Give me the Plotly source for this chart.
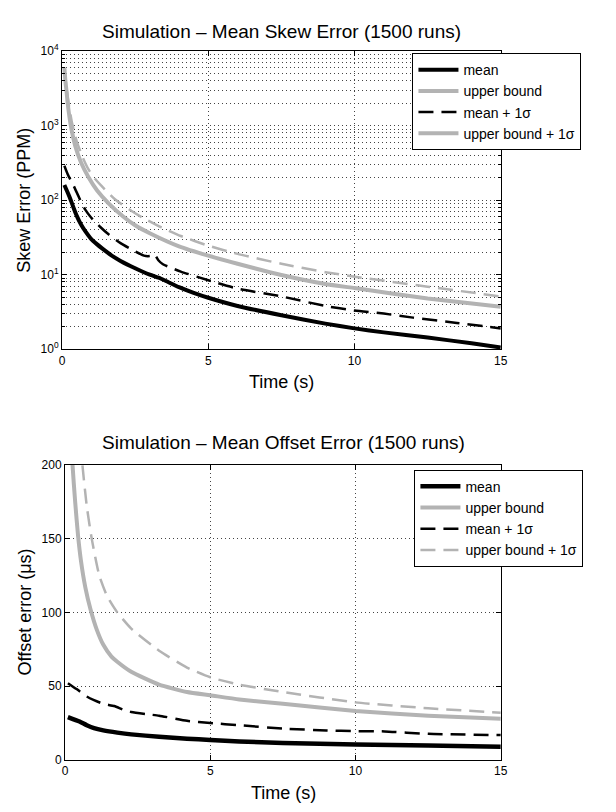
import plotly.graph_objects as go

W, H = 616, 812
FONT = "Liberation Sans, Arial, Helvetica, sans-serif"
GRAY = "#b3b3b3"

# ---------------- Data: top plot (Skew error, PPM, log scale) ----------------
skew_mean_t = [0.08, 0.2, 0.3, 0.4, 0.5, 0.65, 0.8, 1.0, 1.2, 1.37, 1.7, 2.0, 2.5, 3.0, 3.3, 3.5, 4.0, 4.5, 5.0, 6.0, 7.5, 9.0, 10.0, 11.0, 12.5, 14.0, 15.0]
skew_mean_v = [160, 125, 100, 78, 62, 47, 38, 30, 25.5, 22.5, 18, 15.3, 12.2, 10, 9.1, 8.4, 6.8, 5.7, 4.9, 3.8, 2.85, 2.2, 1.9, 1.68, 1.43, 1.2, 1.05]

skew_msig_t = [0.08, 0.2, 0.4, 0.6, 0.8, 1.0, 1.3, 1.6, 2.0, 2.4, 2.8, 3.0, 3.15, 3.3, 3.45, 3.7, 4.06, 5.0, 6.0, 7.5, 9.0, 10.0, 11.0, 12.0, 13.5, 15.0]
skew_msig_v = [290, 220, 155, 105, 74, 58, 44, 34.5, 26.5, 21.5, 18, 17.8, 18.8, 15.5, 13.8, 12.5, 11, 8.4, 6.5, 5.1, 3.8, 3.3, 3.0, 2.65, 2.25, 1.9]

skew_ub_t = [0.08, 0.12, 0.15, 0.2, 0.3, 0.45, 0.65, 0.9, 1.2, 1.6, 2.1, 2.5, 3.0, 4.0, 5.0, 6.0, 7.5, 9.0, 10.0, 12.5, 15.0]
skew_ub_v = [6000, 3800, 3000, 1900, 1000, 540, 320, 205, 135, 90, 60, 46, 36, 24, 18, 14, 9.9, 7.5, 6.6, 4.8, 3.7]

skew_ubsig_t = [0.08, 0.12, 0.2, 0.33, 0.5, 0.7, 0.9, 1.12, 1.35, 1.82, 2.3, 2.76, 3.4, 4.06, 5.0, 6.0, 7.5, 9.0, 10.0, 12.5, 15.0]
skew_ubsig_v = [5800, 4200, 2300, 1150, 620, 380, 260, 195, 155, 102, 75, 58, 43, 33, 24.5, 19, 14, 10.8, 9.4, 6.9, 5.1]

# ---------------- Data: bottom plot (Offset error, us) ----------------
off_mean_t = [0.1, 0.5, 0.75, 1.0, 1.32, 1.8, 2.28, 3.24, 4.2, 5.0, 6.0, 7.5, 10.0, 12.5, 15.0]
off_mean_v = [29, 26, 23.5, 21.5, 20, 18.5, 17.3, 15.7, 14.4, 13.5, 12.5, 11.5, 10.4, 9.7, 9.0]

off_msig_t = [0.1, 0.4, 0.75, 1.0, 1.32, 1.7, 2.0, 2.28, 2.8, 3.24, 4.2, 5.0, 6.0, 7.5, 9.0, 10.0, 11.0, 12.5, 15.0]
off_msig_v = [52, 48, 43, 40.5, 38, 36.5, 34, 32.5, 31, 30, 26.5, 25, 23.5, 21.2, 20, 19.5, 19.3, 17.7, 16.8]

off_ub_t = [0.22, 0.26, 0.35, 0.45, 0.55, 0.7, 0.88, 1.1, 1.32, 1.6, 1.8, 2.28, 3.24, 4.2, 5.0, 6.0, 7.5, 10.0, 12.5, 15.0]
off_ub_v = [225, 200, 175, 152, 135, 117, 102, 88, 78, 70, 66.5, 59.7, 51, 46, 43.8, 41, 38, 33.2, 30, 27.9]

off_ubsig_t = [0.55, 0.6, 0.75, 0.92, 1.18, 1.45, 1.8, 2.28, 3.24, 4.2, 5.0, 6.0, 7.5, 10.0, 12.5, 15.0]
off_ubsig_v = [215, 200, 172, 150, 125, 111, 100, 89, 74, 62.6, 56, 51, 46, 39, 35, 32]

names = ["mean", "upper bound", "mean + 1σ", "upper bound + 1σ"]
x_ticks = [0, 5, 10, 15]
skew_ticks = [1, 10, 100, 1000, 10000]
skew_ticktext = ["10<sup>0</sup>", "10<sup>1</sup>", "10<sup>2</sup>", "10<sup>3</sup>", "10<sup>4</sup>"]
off_ticks = [0, 50, 100, 150, 200]

DASH = "15px,8px"

fig = go.Figure()

def add(t, v, name, color, width, dash, xa, ya, leg, show=True):
    fig.add_trace(go.Scatter(
        x=t, y=v, name=name, mode="lines",
        line=dict(color=color, width=width, dash=dash, shape="spline", smoothing=0.5),
        xaxis=xa, yaxis=ya, legend=leg, showlegend=show, hoverinfo="skip"))

# top plot
add(skew_mean_t, skew_mean_v, names[0], "black", 4, "solid", "x", "y", "legend")
add(skew_ub_t, skew_ub_v, names[1], GRAY, 4, "solid", "x", "y", "legend")
add(skew_msig_t, skew_msig_v, names[2], "black", 2.5, DASH, "x", "y", "legend")
add(skew_ubsig_t, skew_ubsig_v, names[3], GRAY, 2.5, DASH, "x", "y", "legend", show=False)
# legend entry as in reference (drawn solid in the legend)
add([None], [None], names[3], GRAY, 4, "solid", "x", "y", "legend")

# bottom plot
add(off_mean_t, off_mean_v, names[0], "black", 4.5, "solid", "x2", "y2", "legend2")
add(off_ub_t, off_ub_v, names[1], GRAY, 4, "solid", "x2", "y2", "legend2")
add(off_msig_t, off_msig_v, names[2], "black", 2.5, DASH, "x2", "y2", "legend2")
add(off_ubsig_t, off_ubsig_v, names[3], GRAY, 2.5, DASH, "x2", "y2", "legend2")

def px(x):
    return x / W

def py(y):
    return 1 - y / H

axis_common = dict(
    showline=True, linecolor="black", linewidth=1, mirror="allticks",
    ticks="inside", ticklen=5, tickcolor="black",
    showgrid=True, gridcolor="#444444", gridwidth=1, griddash="1px,3px",
    zeroline=False, tickfont=dict(family=FONT, size=12, color="black"),
)

minor_log = [d * 10 ** k for k in range(4) for d in range(2, 10)]

fig.update_layout(
    width=W, height=H, margin=dict(l=0, r=0, t=0, b=0),
    paper_bgcolor="white", plot_bgcolor="white",
    font=dict(family=FONT, color="black"),
    xaxis=dict(domain=[px(60), px(506)], anchor="y", range=[0, 15],
               tickmode="array", tickvals=x_ticks, **axis_common),
    yaxis=dict(domain=[py(347), py(43)], anchor="x", type="log", range=[0, 4],
               tickmode="array", tickvals=skew_ticks, ticktext=skew_ticktext,
               minor=dict(tickmode="array", tickvals=minor_log, ticks="inside", ticklen=3,
                          tickcolor="black", showgrid=True, gridcolor="#444444",
                          gridwidth=1, griddash="1px,3px"),
               **axis_common),
    xaxis2=dict(domain=[px(63), px(506)], anchor="y2", range=[0, 15],
                tickmode="array", tickvals=x_ticks, **axis_common),
    yaxis2=dict(domain=[py(766), py(465)], anchor="x2", range=[0, 200],
                tickmode="array", tickvals=off_ticks, **axis_common),
    legend=dict(x=px(588), y=py(45), xanchor="right", yanchor="top",
                bgcolor="white", bordercolor="black", borderwidth=1,
                font=dict(family=FONT, size=14, color="black"),
                tracegroupgap=0, itemwidth=40),
    legend2=dict(x=px(590), y=py(470), xanchor="right", yanchor="top",
                 bgcolor="white", bordercolor="black", borderwidth=1,
                 font=dict(family=FONT, size=14, color="black"),
                 tracegroupgap=0, itemwidth=40),
)

def label(text, x, y, size, angle=0):
    fig.add_annotation(text=text, x=px(x), y=py(y), xref="paper", yref="paper",
                       showarrow=False, textangle=angle, xanchor="center", yanchor="middle",
                       font=dict(family=FONT, size=size, color="black"))

label("Simulation – Mean Skew Error (1500 runs)", 283, 23, 19)
label("Time (s)", 283, 381, 18)
label("Skew Error (PPM)", 21, 195, 18, -90)
label("Simulation – Mean Offset Error (1500 runs)", 285, 442, 19)
label("Time (s)", 285, 800, 18)
label("Offset error (μs)", 22, 615, 18, -90)

fig.write_html("out.html")
